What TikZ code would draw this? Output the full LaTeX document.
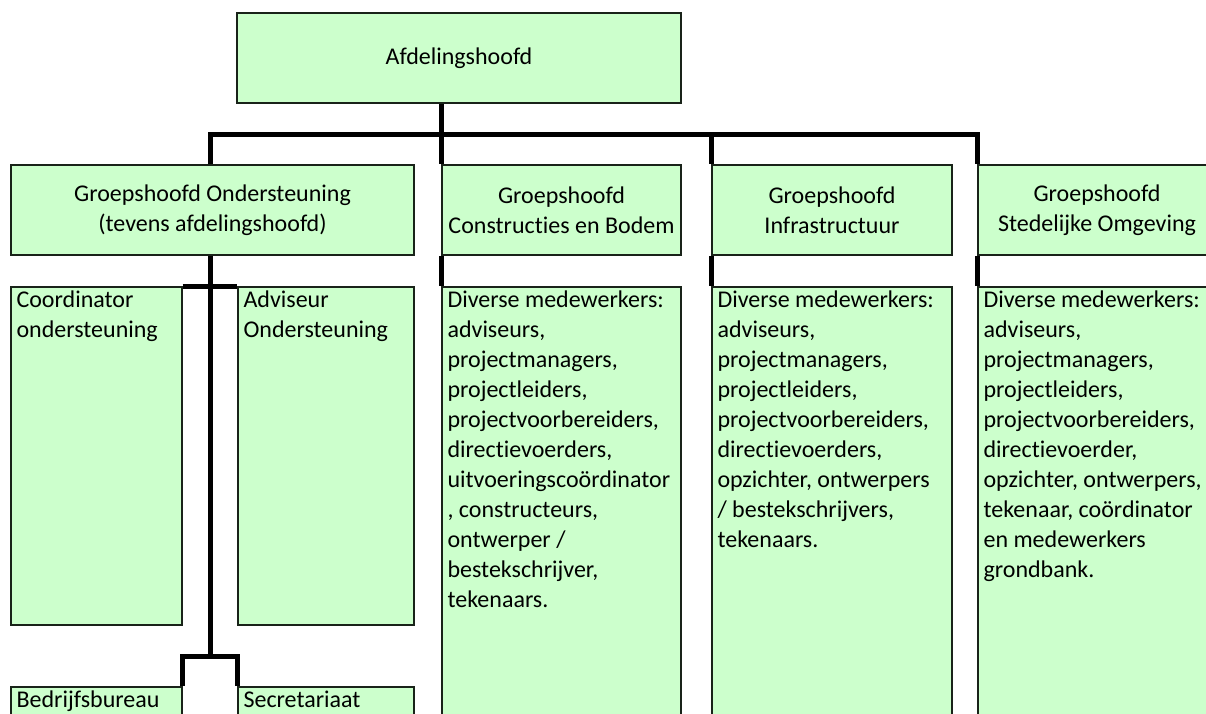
\documentclass[tikz,border=0pt]{standalone}
\usepackage{fontspec}
\setmainfont{Carlito}[Ligatures={NoCommon,NoRare,NoContextual},RawFeature={-calt;-dlig;-clig}]
\definecolor{boxgreen}{RGB}{204,255,204}
\definecolor{boxline}{RGB}{25,35,25}

\begin{document}
\begin{tikzpicture}[x=1pt,y=-1pt,
        box/.style={draw=boxline,line width=1.3pt,fill=boxgreen,inner sep=0pt},
        head/.style={align=center,font=\fontsize{24}{30}\selectfont},
        txt/.style={align=left,anchor=north west,inner sep=0pt,font=\fontsize{24}{30}\selectfont},
        link/.style={line width=5pt}]
        \useasboundingbox (0,0) rectangle (1206,713);
        \clip (0,0) rectangle (1206,713);

        % top
        \node[box,head,minimum width=444pt,minimum height=90pt] (top) at (459,58) {Afdelingshoofd};

        % groepshoofden
        \node[box,head,minimum width=403pt,minimum height=90pt] (g1) at (212.5,210) {Groepshoofd Ondersteuning\\(tevens afdelingshoofd)};
        \node[box,head,minimum width=239pt,minimum height=90pt] (g2) at (561.5,210) {Groepshoofd\\Construct\kern0pt ies en Bodem};
        \node[box,head,minimum width=240pt,minimum height=90pt] (g3) at (832,210) {Groepshoofd\\Infrastructuur};
        \node[box,head,minimum width=238pt,minimum height=90pt] (g4) at (1097,210) {Groepshoofd\\Stedelijke Omgeving};

        % ondersteuning
        \node[box,minimum width=171pt,minimum height=338pt] (coord) at (96.5,456) {};
        \node[box,minimum width=176pt,minimum height=338pt] (adv) at (326,456) {};
        \node[box,minimum width=171pt,minimum height=66pt] (bed) at (96.5,720) {};
        \node[box,minimum width=176pt,minimum height=66pt] (sec) at (326,720) {};
        \node[txt] (coordtext) at ([xshift=6pt,yshift=-4pt]coord.north west) {Coordinator\\ondersteuning};
        \node[txt] (advtext) at ([xshift=6pt,yshift=-4pt]adv.north west) {Adviseur\\Ondersteuning};
        \node[txt] (bedtext) at ([xshift=6pt,yshift=-4pt]bed.north west) {Bedrijfsbureau};
        \node[txt] (sectext) at ([xshift=6pt,yshift=-4pt]sec.north west) {Secretariaat};

        % medewerkers
        \node[box,minimum width=239pt,minimum height=466pt] (d2) at (561.5,520) {};
        \node[box,minimum width=240pt,minimum height=466pt] (d3) at (832,520) {};
        \node[box,minimum width=238pt,minimum height=466pt] (d4) at (1097,520) {};
        \node[txt] (d2text) at ([xshift=6pt,yshift=-4pt]d2.north west) {Diverse medewerkers:\\adviseurs,\\projectmanagers,\\projectleiders,\\projectvoorbereiders,\\direct\kern0pt ievoerders,\\uitvoeringscoördinator\\, constructeurs,\\ontwerper /\\bestekschrijver,\\tekenaars.};
        \node[txt] (d3text) at ([xshift=6pt,yshift=-4pt]d3.north west) {Diverse medewerkers:\\adviseurs,\\projectmanagers,\\projectleiders,\\projectvoorbereiders,\\direct\kern0pt ievoerders,\\opzichter, ontwerpers\\/ bestekschrijvers,\\tekenaars.};
        \node[txt] (d4text) at ([xshift=6pt,yshift=-4pt]d4.north west) {Diverse medewerkers:\\adviseurs,\\projectmanagers,\\projectleiders,\\projectvoorbereiders,\\direct\kern0pt ievoerder,\\opzichter, ontwerpers,\\tekenaar, coördinator\\en medewerkers\\grondbank.};

        \coordinate (bar) at (0,134);
        \coordinate (fork) at (210,656);

        \draw[link] (g1.north -| fork) -- (fork |- bar) -| (g4.north west);
        \draw[link] (top.south -| g2.north west) -- (g2.north west);
        \draw[link] (g3.north west |- bar) -- (g3.north west);
        \draw[link] (g2.south west) -- (d2.north west);
        \draw[link] (g3.south west) -- (d3.north west);
        \draw[link] (g4.south west) -- (d4.north west);
        \draw[link] (g1.south -| fork) -- (fork);
        \draw[link] (coord.north east) -- (adv.north west);
        \draw[link] (bed.north east) |- (fork) -| (sec.north west);

    \end{tikzpicture}
\end{document}
